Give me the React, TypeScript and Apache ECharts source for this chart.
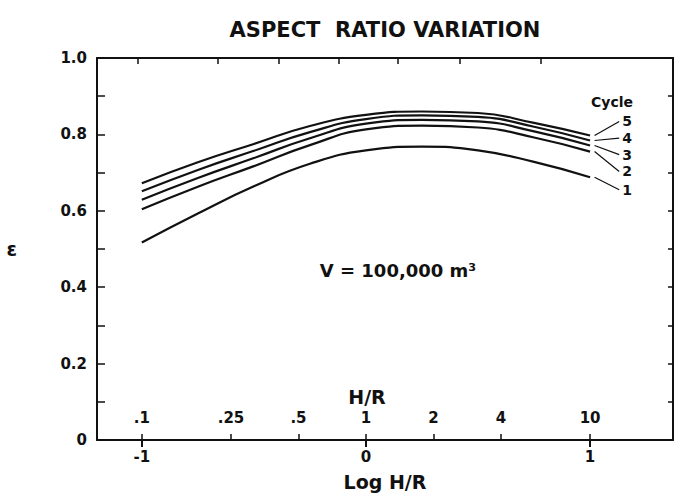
import React, { useEffect, useRef } from "react";
import * as echarts from "echarts";

// Log H/R sample positions
const logHR = [-1, -0.75, -0.5, -0.25, 0, 0.25, 0.5, 0.75, 1];
// efficiency ε per cycle
const cycle1 = [0.517, 0.593, 0.664, 0.723, 0.758, 0.768, 0.758, 0.728, 0.688];
const cycle2 = [0.604, 0.663, 0.717, 0.772, 0.813, 0.823, 0.818, 0.792, 0.755];
const cycle3 = [0.629, 0.686, 0.738, 0.79, 0.828, 0.838, 0.834, 0.808, 0.771];
const cycle4 = [0.651, 0.707, 0.757, 0.806, 0.84, 0.85, 0.846, 0.82, 0.784];
const cycle5 = [0.672, 0.727, 0.775, 0.822, 0.851, 0.86, 0.856, 0.83, 0.797];
const cycleNames = ["1", "2", "3", "4", "5"];
// label positions (ε) for the cycle numbers at the right
const cycleLabelY = [0.655, 0.703, 0.747, 0.79, 0.834];

// axis ticks
const logTicks = [-1, 0, 1];
const hrValues = [0.1, 0.25, 0.5, 1, 2, 4, 10];
const hrLabels = [".1", ".25", ".5", "1", "2", "4", "10"];
const topTicks = [-1.02, -0.66, -0.39, -0.12, 0.14, 0.42, 0.78];

const FONT = "DejaVu Sans";
const INK = "#111";

export default function App() {
  const ref = useRef<HTMLDivElement>(null);
  useEffect(() => {
    if (!ref.current) return;
    const chart = echarts.init(ref.current, null, { renderer: "svg" });
    const all = [cycle1, cycle2, cycle3, cycle4, cycle5];
    const curveSeries = all.map((vals, i) => ({
      type: "line",
      name: "Cycle " + cycleNames[i],
      data: vals.map((v, j) => [logHR[j], v]),
      smooth: 0.5,
      showSymbol: false,
      lineStyle: { color: INK, width: 2.2 },
      xAxisIndex: 0,
      yAxisIndex: 0,
      silent: true,
    }));
    const leaderStartX = 1.02;
    const leaderEndX = 1.13;
    const leaderSeries = all.map((vals, i) => ({
      type: "line",
      data: [
        [leaderStartX, vals[vals.length - 1]],
        [leaderEndX, cycleLabelY[i]],
      ],
      showSymbol: false,
      lineStyle: { color: INK, width: 1.2 },
      endLabel: {
        show: true,
        distance: 3,
        formatter: cycleNames[i],
        fontFamily: FONT,
        fontWeight: "bold",
        fontSize: 14,
        lineHeight: 14,
        color: INK,
      },
      xAxisIndex: 0,
      yAxisIndex: 0,
      silent: true,
    }));
    const yLabelFmt = (v: number) => {
      const k = Math.round(v * 10);
      if (k % 2 !== 0) return "";
      const map: Record<number, string> = { 0: "0", 2: "0.2", 4: "0.4", 6: "0.6", 8: "0.8", 10: "1.0" };
      return map[k] ?? "";
    };
    const tickFont = { fontFamily: FONT, fontSize: 15, fontWeight: "bold", color: INK };
    chart.setOption({
      animation: false,
      backgroundColor: "#fff",
      title: {
        text: "ASPECT  RATIO VARIATION",
        left: 380,
        top: 14,
        textAlign: "center",
        textStyle: { fontFamily: FONT, fontSize: 21, fontWeight: "bold", color: INK },
      },
      grid: { left: 97, right: 1, top: 58, bottom: 54, containLabel: false },
      xAxis: [
        {
          type: "value",
          min: -1.2,
          max: 1.37,
          position: "bottom",
          name: "Log H/R",
          nameLocation: "middle",
          nameGap: 32,
          nameTextStyle: { fontFamily: FONT, fontSize: 19, fontWeight: "bold", color: INK },
          axisLine: { show: true, onZero: false, lineStyle: { color: INK, width: 2 } },
          axisTick: { show: true, inside: false, length: 7, customValues: logTicks, lineStyle: { color: INK, width: 2 } },
          axisLabel: {
            show: true,
            customValues: logTicks,
            margin: 9,
            ...tickFont,
            formatter: (v: number) => (Math.abs(v) < 1e-6 ? "0" : v < 0 ? "-1" : "1"),
          },
          splitLine: { show: false },
        },
        {
          type: "value",
          min: -1.2,
          max: 1.37,
          position: "bottom",
          axisLine: { show: false, onZero: false },
          axisTick: {
            show: true,
            inside: true,
            length: 6,
            customValues: hrValues.map((v) => Math.log10(v)),
            lineStyle: { color: INK, width: 1.5 },
          },
          axisLabel: {
            show: true,
            inside: true,
            margin: 15,
            customValues: hrValues.map((v) => Math.log10(v)),
            ...tickFont,
            formatter: (v: number) => {
              let best = 0;
              hrValues.forEach((h, i) => {
                if (Math.abs(Math.log10(h) - v) < Math.abs(Math.log10(hrValues[best]) - v)) best = i;
              });
              return hrLabels[best];
            },
          },
          splitLine: { show: false },
        },
        {
          type: "value",
          min: -1.2,
          max: 1.37,
          position: "top",
          axisLine: { show: true, onZero: false, lineStyle: { color: INK, width: 2 } },
          axisTick: { show: true, inside: true, length: 6, customValues: topTicks, lineStyle: { color: INK, width: 1.5 } },
          axisLabel: { show: false },
          splitLine: { show: false },
        },
      ],
      yAxis: [
        {
          type: "value",
          min: 0,
          max: 1,
          interval: 0.1,
          position: "left",
          name: "ε",
          nameLocation: "middle",
          nameRotate: 0,
          nameGap: 80,
          nameTextStyle: { fontFamily: FONT, fontSize: 19, fontWeight: "bold", color: INK },
          axisLine: { show: true, onZero: false, lineStyle: { color: INK, width: 2 } },
          axisTick: { show: true, inside: true, length: 8, lineStyle: { color: INK, width: 1.5 } },
          axisLabel: { show: true, margin: 10, ...tickFont, formatter: yLabelFmt },
          splitLine: { show: false },
        },
        {
          type: "value",
          min: 0,
          max: 1,
          interval: 0.1,
          position: "right",
          axisLine: { show: true, onZero: false, lineStyle: { color: INK, width: 2 } },
          axisTick: { show: true, inside: true, length: 5, lineStyle: { color: INK, width: 1.5 } },
          axisLabel: { show: false },
          splitLine: { show: false },
        },
      ],
      graphic: [
        {
          type: "text",
          x: 367,
          y: 397,
          style: { text: "H/R", fontFamily: FONT, fontSize: 19, fontWeight: "bold", fill: INK, textAlign: "center", textVerticalAlign: "middle" },
        },
        {
          type: "text",
          x: 612,
          y: 102,
          style: { text: "Cycle", fontFamily: FONT, fontSize: 14, fontWeight: "bold", fill: INK, textAlign: "center", textVerticalAlign: "middle" },
        },
        {
          type: "text",
          x: 398,
          y: 270,
          style: { text: "V = 100,000 m³", fontFamily: FONT, fontSize: 18, fontWeight: "bold", fill: INK, textAlign: "center", textVerticalAlign: "middle" },
        },
      ],
      series: [...curveSeries, ...leaderSeries],
    });
    return () => chart.dispose();
  }, []);
  return <div ref={ref} style={{ width: 674, height: 496, position: "absolute", left: 0, top: 0 }} />;
}
